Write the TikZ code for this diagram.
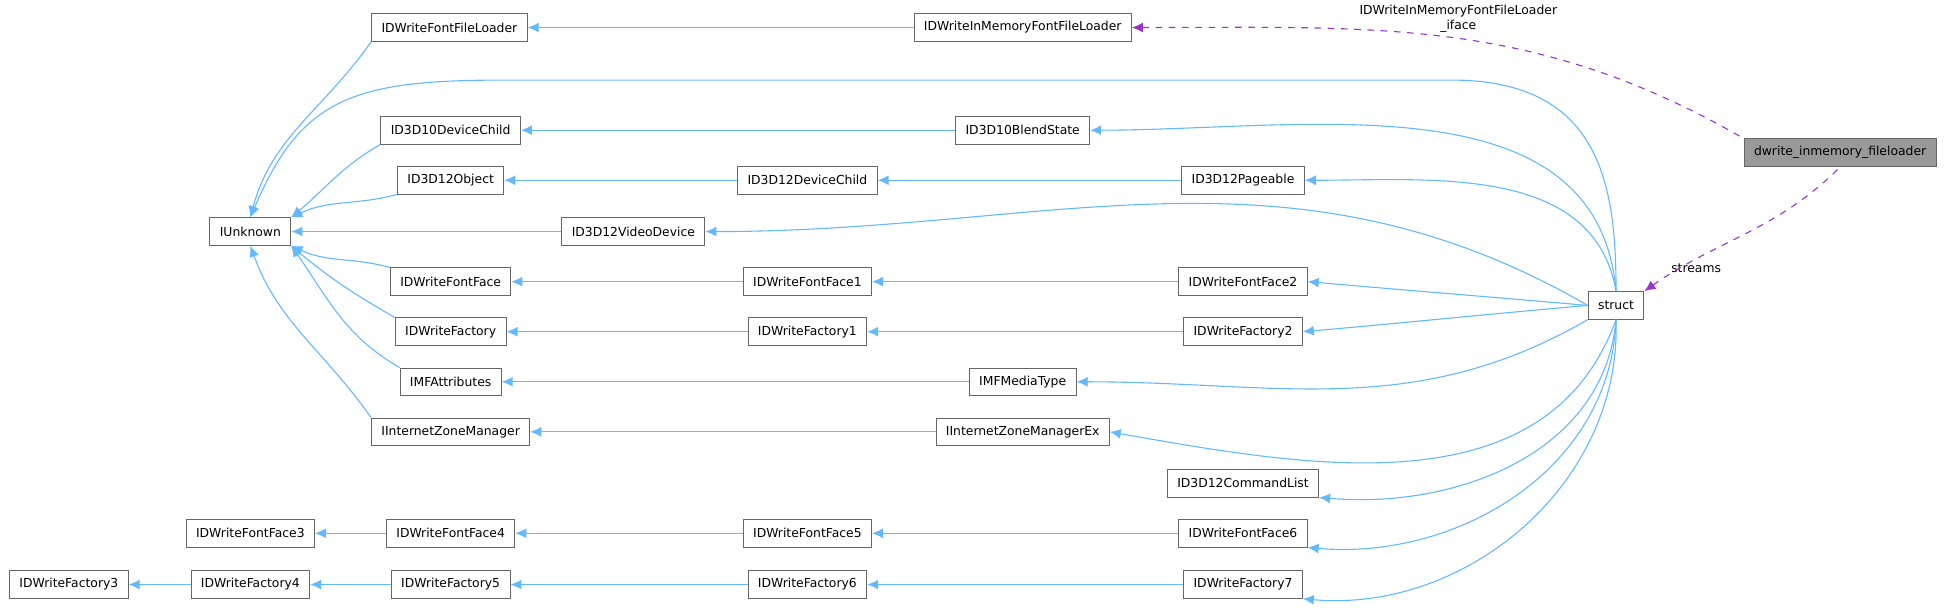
\documentclass[tikz,border=0pt]{standalone}
\usepackage{fontspec}
\setmainfont{DejaVu Sans}
\usetikzlibrary{arrows.meta}
\definecolor{inhblue}{HTML}{63B8FF}
\definecolor{usepurple}{HTML}{9A32CD}
\definecolor{boxgray}{HTML}{666666}
\tikzset{
  cls/.style={draw=boxgray, fill=white, font=\fontsize{5.6}{6.5}\selectfont, inner xsep=4.5pt, minimum height=12.5pt, inner ysep=0pt},
  inh/.style={draw=inhblue, line width=0.5pt, {Latex[length=5pt,width=4.5pt]}-},
  uses/.style={draw=usepurple, dashed, line width=0.5pt, {Latex[length=5pt,width=4.5pt]}-},
  lbl/.style={font=\fontsize{5.6}{6.5}\selectfont, align=center, inner sep=0pt}
}
\begin{document}
\begin{tikzpicture}[x=0.567pt, y=-0.567pt]
    % top row
    \node[cls] (fileloader) at (359,22) {IDWriteFontFileLoader};
    \node[cls] (memloader) at (817,22) {IDWriteInMemoryFontFileLoader};
    \node[cls, fill=gray!80] (dwrite) at (1470,122) {dwrite\_inmemory\_fileloader};

    \node[cls] (iunk) at (200,185) {IUnknown};
    \node[cls] (d3d10child) at (360,104) {ID3D10DeviceChild};
    \node[cls] (blend) at (817,104) {ID3D10BlendState};
    \node[cls] (d3d12obj) at (360,144) {ID3D12Object};
    \node[cls] (d3d12child) at (645,144) {ID3D12DeviceChild};
    \node[cls] (pageable) at (993,144) {ID3D12Pageable};
    \node[cls] (video) at (506,185) {ID3D12VideoDevice};
    \node[cls] (face) at (360,225) {IDWriteFontFace};
    \node[cls] (face1) at (645,225) {IDWriteFontFace1};
    \node[cls] (face2) at (993,225) {IDWriteFontFace2};
    \node[cls] (struct) at (1291,244) {struct};
    \node[cls] (fac) at (360,265) {IDWriteFactory};
    \node[cls] (fac1) at (645,265) {IDWriteFactory1};
    \node[cls] (fac2) at (993,265) {IDWriteFactory2};
    \node[cls] (mfattr) at (360,305) {IMFAttributes};
    \node[cls] (mftype) at (817,305) {IMFMediaType};
    \node[cls] (izm) at (360,345) {IInternetZoneManager};
    \node[cls] (izmex) at (817,345) {IInternetZoneManagerEx};
    \node[cls] (cmdlist) at (993,386) {ID3D12CommandList};

    % bottom rows
    \node[cls] (face3) at (200,426) {IDWriteFontFace3};
    \node[cls] (face4) at (360,426) {IDWriteFontFace4};
    \node[cls] (face5) at (645,426) {IDWriteFontFace5};
    \node[cls] (face6) at (993,426) {IDWriteFontFace6};
    \node[cls] (fac3) at (55,467) {IDWriteFactory3};
    \node[cls] (fac4) at (200,467) {IDWriteFactory4};
    \node[cls] (fac5) at (360,467) {IDWriteFactory5};
    \node[cls] (fac6) at (645,467) {IDWriteFactory6};
    \node[cls] (fac7) at (993,467) {IDWriteFactory7};

    % labels of the dashed edges
    \node[lbl] (ifacelbl) at (1165,15) {IDWriteInMemoryFontFileLoader\\\_iface};
    \node[lbl] (streamslbl) at (1355,214) {streams};

    % straight chains
    \draw[inh] (fileloader) -- (memloader);
    \draw[inh] (d3d10child) -- (blend);
    \draw[inh] (d3d12obj) -- (d3d12child);
    \draw[inh] (d3d12child) -- (pageable);
    \draw[inh] (face) -- (face1);
    \draw[inh] (face1) -- (face2);
    \draw[inh] (fac) -- (fac1);
    \draw[inh] (fac1) -- (fac2);
    \draw[inh] (mfattr) -- (mftype);
    \draw[inh] (izm) -- (izmex);
    \draw[inh] (iunk) -- (video);
    \draw[inh] (face3) -- (face4);
    \draw[inh] (face4) -- (face5);
    \draw[inh] (face5) -- (face6);
    \draw[inh] (fac3) -- (fac4);
    \draw[inh] (fac4) -- (fac5);
    \draw[inh] (fac5) -- (fac6);
    \draw[inh] (fac6) -- (fac7);

    % from IUnknown
    \draw[inh] (iunk.north) to[out=75, in=235] (fileloader.south west);
    \draw[inh] (iunk.north east) to[out=40, in=210] (d3d10child.south west);
    \draw[inh] (iunk.north east) to[out=25, in=195] (d3d12obj.south west);
    \draw[inh] (iunk.south east) to[out=-25, in=165] (face.north west);
    \draw[inh] (iunk.south east) to[out=-40, in=150] (fac.north west);
    \draw[inh] (iunk.south east) to[out=-55, in=150] (mfattr.north west);
    \draw[inh] (iunk.south) to[out=-70, in=125] (izm.north west);
    \draw[inh] (iunk.north) .. controls (240,80) and (280,64) .. (400,64)
        -- (1160,64) .. controls (1280,64) and (1291,150) .. (struct.north);

    % into struct
    \draw[inh] (blend.east) to[out=0, in=95] (struct.north);
    \draw[inh] (pageable.east) to[out=0, in=100] (struct.north);
    \draw[inh] (video.east) to[out=0, in=150] (struct.west);
    \draw[inh] (face2.east) to[out=-5, in=175] (struct.west);
    \draw[inh] (fac2.east) to[out=5, in=185] (struct.west);
    \draw[inh] (mftype.east) to[out=0, in=210] (struct.south west);
    \draw[inh] (izmex.east) to[out=-10, in=250] (struct.south);
    \draw[inh] (cmdlist.south east) to[out=-5, in=265] (struct.south);
    \draw[inh] (face6.south east) to[out=-5, in=268] (struct.south);
    \draw[inh] (fac7.south east) to[out=-5, in=272] (struct.south);

    % uses
    \draw[uses] (memloader.east) to[out=0, in=150] (dwrite.north west);
    \draw[uses] (struct.north east) to[out=35, in=225] (dwrite.south);

    \pgfresetboundingbox
    \useasboundingbox (0,0) rectangle (1565,488);
\end{tikzpicture}
\end{document}
